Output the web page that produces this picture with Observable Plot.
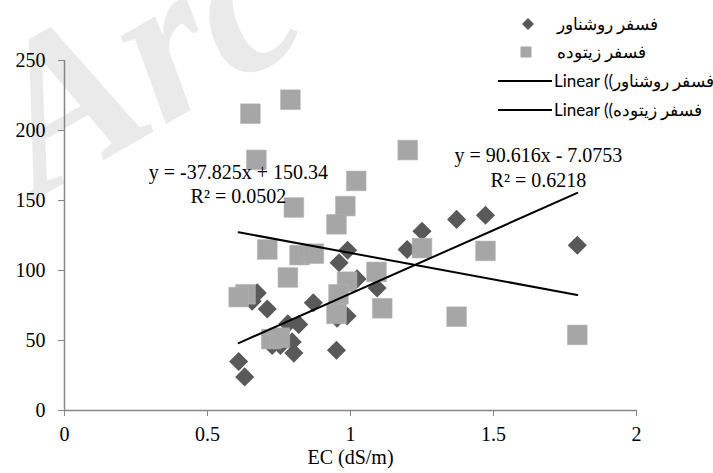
<!DOCTYPE html>
<html>
<head>
<meta charset="utf-8">
<script src="https://cdn.jsdelivr.net/npm/d3@7"></script>
<script src="https://cdn.jsdelivr.net/npm/@observablehq/plot@0.6"></script>
<style>
  html, body { margin: 0; padding: 0; background: #ffffff; }
  #chart { width: 713px; height: 473px; position: relative; overflow: hidden; }
</style>
</head>
<body>
<div id="chart"></div>
<script>
// Series names (legend)
const seriesNames = ["فسفر روشناور", "فسفر زيتوده"];
const trendNames = ["Linear ((فسفر روشناور", "Linear ((فسفر زيتوده"];

// Series 1: فسفر روشناور (dark diamonds)
const ecA = [1.793, 1.472, 1.371, 1.250, 1.198, 0.990, 0.960, 1.023, 1.093, 0.674, 0.656, 0.709,
             0.870, 0.988, 0.953, 0.819, 0.781, 0.796, 0.726, 0.755, 0.802, 0.951, 0.609, 0.630];
const pA  = [118, 139.5, 136.5, 128, 115, 114.5, 105.5, 94, 87.5, 84, 78, 72.5,
             77, 67.5, 66, 61.5, 62, 49, 46.5, 46.5, 41, 43, 35, 24];

// Series 2: فسفر زيتوده (light squares)
const ecB = [0.650, 0.790, 0.671, 0.802, 1.200, 1.020, 0.982, 0.951, 0.709, 0.822, 0.872, 1.250,
             0.781, 1.091, 0.988, 0.958, 0.633, 0.609, 1.111, 0.951, 0.723, 0.753, 1.472, 1.371, 1.793];
const pB  = [212, 222, 179, 145, 186, 164, 146, 133, 115, 111, 112, 116,
             95, 99, 92, 83, 83, 81, 73, 69, 51, 52, 114, 67, 54];

// Trend line equations (slope, intercept) and labels
const fitA = {slope: 90.616, intercept: -7.0753};
const fitB = {slope: -37.825, intercept: 150.34};
const eqLabelsA = ["y = 90.616x - 7.0753", "R² = 0.6218"];
const eqLabelsB = ["y = -37.825x + 150.34", "R² = 0.0502"];

// Axes
const xTicks = [0, 0.5, 1, 1.5, 2];
const yTicks = [0, 50, 100, 150, 200, 250];
const xTitle = "EC (dS/m)";
const watermark = "Arc";

const dataA = ecA.map((x, i) => ({x, y: pA[i]}));
const dataB = ecB.map((x, i) => ({x, y: pB[i]}));
const lineOf = (xs, f) => {
  const x0 = d3.min(xs), x1 = d3.max(xs);
  return [{x: x0, y: f.slope * x0 + f.intercept}, {x: x1, y: f.slope * x1 + f.intercept}];
};
const trendA = lineOf(ecA, fitA);
const trendB = lineOf(ecB, fitB);

const serif = "'Liberation Serif', 'Times New Roman', serif";
const axisGray = "#868686";

const chart = Plot.plot({
  width: 713,
  height: 473,
  marginLeft: 64,
  marginRight: 77,
  marginTop: 60,
  marginBottom: 63,
  style: {fontFamily: serif, fontSize: "20px", color: "#000", background: "transparent", overflow: "visible"},
  x: {domain: [0, 2]},
  y: {domain: [0, 250]},
  marks: [
    Plot.axisX({ticks: xTicks, tickFormat: d => String(d), tickSize: 6, tickPadding: 10,
                stroke: axisGray, fill: "#000", label: null, fontSize: 20}),
    Plot.axisY({ticks: yTicks, tickFormat: d => String(d), tickSize: 6, tickPadding: 13,
                stroke: axisGray, fill: "#000", label: null, fontSize: 20}),
    Plot.ruleY([0], {stroke: axisGray, strokeWidth: 1.5}),
    Plot.ruleX([0], {stroke: axisGray, strokeWidth: 1.5}),
    Plot.dot(dataA, {x: "x", y: "y", symbol: "diamond2", r: 8.6, fill: "#595959", stroke: "none"}),
    Plot.dot(dataB, {x: "x", y: "y", symbol: "square", r: 11.1, fill: "#a6a6a6", stroke: "#b4b4b4", strokeWidth: 0.6}),
    Plot.line(trendA, {x: "x", y: "y", stroke: "#000", strokeWidth: 2}),
    Plot.line(trendB, {x: "x", y: "y", stroke: "#000", strokeWidth: 2}),
    Plot.text([eqLabelsB[0]], {x: 0.608, y: 170, text: d => d, fontSize: 20, fill: "#000"}),
    Plot.text([eqLabelsB[1]], {x: 0.608, y: 152.5, text: d => d, fontSize: 20, fill: "#000"}),
    Plot.text([eqLabelsA[0]], {x: 1.657, y: 182, text: d => d, fontSize: 20, fill: "#000"}),
    Plot.text([eqLabelsA[1]], {x: 1.657, y: 164, text: d => d, fontSize: 20, fill: "#000"}),
    Plot.text([xTitle], {frameAnchor: "bottom", dy: 53, text: d => d, fontSize: 20, fill: "#000"})
  ]
});

const svg = d3.select(chart);

// faint watermark behind everything
svg.insert("text", ":first-child")
  .attr("transform", "translate(38,198) rotate(-30)")
  .attr("text-anchor", "start")
  .attr("font-family", serif)
  .attr("font-style", "italic")
  .attr("font-weight", "bold")
  .attr("font-size", 215)
  .attr("fill", "#eaeaea")
  .text(watermark);

// legend (upper right)
const lg = svg.append("g").attr("class", "legend").attr("text-anchor", "start");
const legendFont = 16.5;
lg.append("path")
  .attr("transform", "translate(528,24)")
  .attr("d", d3.symbol(d3.symbolDiamond2, 92)())
  .attr("fill", "#595959");
lg.append("rect").attr("x", 520.5).attr("y", 46.5).attr("width", 11).attr("height", 11).attr("fill", "#a6a6a6");
lg.append("text").attr("x", 557).attr("y", 24).attr("dy", "0.35em").attr("text-anchor", "start")
  .attr("font-family", serif).attr("font-size", legendFont).attr("direction", "ltr").text(seriesNames[0]);
lg.append("text").attr("x", 557).attr("y", 52).attr("dy", "0.35em").attr("text-anchor", "start")
  .attr("font-family", serif).attr("font-size", legendFont).attr("direction", "ltr").text(seriesNames[1]);
[81, 110].forEach((yy, i) => {
  lg.append("line").attr("x1", 498).attr("x2", 552).attr("y1", yy).attr("y2", yy)
    .attr("stroke", "#000").attr("stroke-width", 2);
  lg.append("text").attr("x", 554).attr("y", yy).attr("dy", "0.35em").attr("text-anchor", "start")
    .attr("font-family", "Lato, 'Liberation Sans', sans-serif").attr("font-size", 17)
    .attr("direction", "ltr").text(trendNames[i]);
});

document.getElementById("chart").appendChild(chart);
</script>
</body>
</html>
